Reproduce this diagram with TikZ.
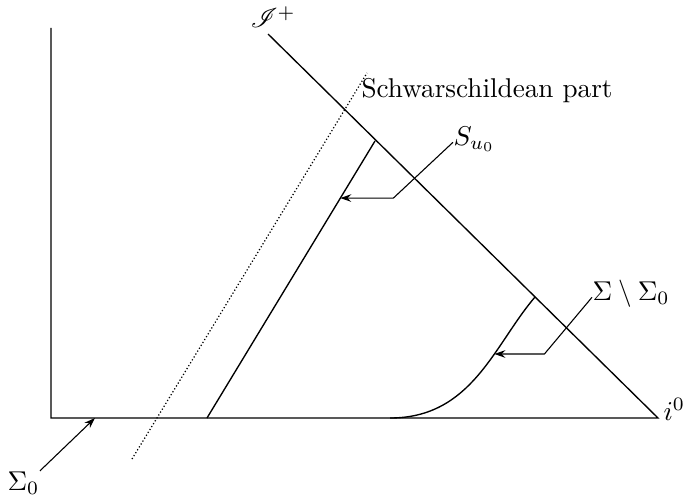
\documentclass[tikz,border=0pt]{standalone}
\usepackage{mathrsfs}
\usetikzlibrary{arrows.meta,calc}
\begin{document}
\begin{tikzpicture}[x=0.368pt,y=-0.368pt,
  mainline/.style={line width=0.5pt},
  dotline/.style={line width=0.45pt,dash pattern=on 0.45pt off 0.8pt},
  arr/.style={line width=0.4pt,-{Stealth[length=4pt,width=2.8pt,inset=1.4pt]}},
  lbl/.style={inner sep=0pt,anchor=base west}]
\useasboundingbox (0,0) rectangle (686,500);
% frame points
\coordinate (top) at (51,28);
\coordinate (O) at (51,418);
\coordinate (i0pt) at (658,418);
\coordinate (scritop) at (268,34);
% axes and null infinity
\draw[mainline] (top) -- (O) -- (i0pt) -- (scritop);
% Schwarzschild boundary (dotted)
\coordinate (dA) at (132,459);
\coordinate (dB) at (367,73);
\draw[dotline] (dA) -- (dB);
% S_u0 line
\coordinate (sA) at (207,418);
\coordinate (sB) at (375,141);
\draw[mainline] (sA) -- coordinate[pos=0.794] (stip) (sB);
% hyperboloidal curve
\coordinate (cA) at (390,418);
\coordinate (cB) at (535,297);
\draw[mainline] (cA) .. controls (472,418) and (494,345) .. coordinate[pos=0.64] (ctip) (cB);
% labels
\node[lbl] (scri) at (250,28) {$\mathscr{I}^+$};
\node[lbl] (schw) at (361,97) {Schwarschildean part};
\node[lbl] (su) at (453,145) {$S_{u_0}$};
\node[lbl] (sig) at (592,300) {$\Sigma\setminus\Sigma_0$};
\node[lbl] (i0) at (663,420) {$i^0$};
\node[lbl] (s0) at (7,490) {$\Sigma_0$};
% leaders
\coordinate (s0tip) at (95,418);
\draw[arr] (s0.north east) -- (s0tip);
\draw[arr] ([yshift=1pt]su.base west) -- ($(stip)+(53,0)$) -- (stip);
\draw[arr] ([yshift=1pt]sig.base west) -- ($(ctip)+(50,0)$) -- (ctip);
\end{tikzpicture}
\end{document}
